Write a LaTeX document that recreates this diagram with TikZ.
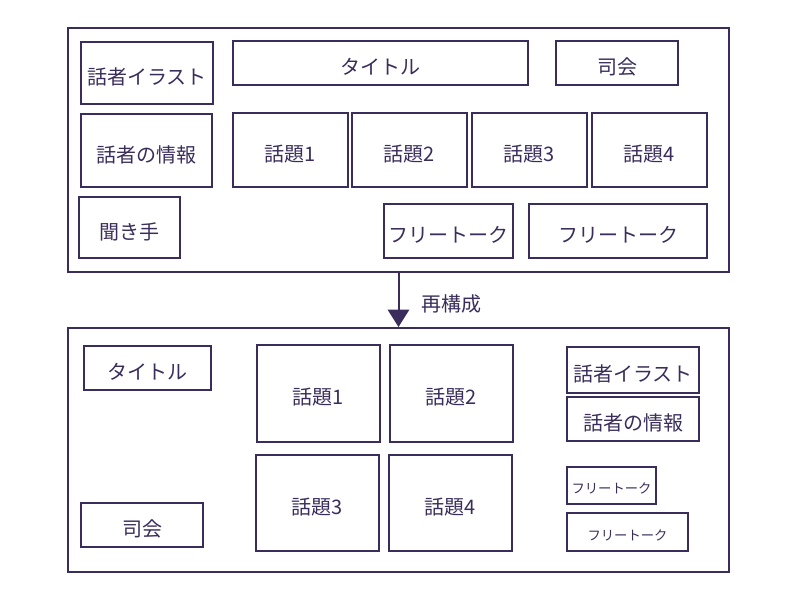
\documentclass[tikz,border=0pt]{standalone}
\usepackage{fontspec}
\setmainfont{Noto Sans CJK JP}
\usetikzlibrary{arrows.meta, fit}

\definecolor{ink}{RGB}{58,45,92}

\tikzset{
  frame/.style={draw=ink, line width=1.5pt, inner sep=0pt},
  box/.style={draw=ink, line width=1.3pt, inner sep=0pt},
  smallbox/.style={draw=ink, line width=0.8pt, inner sep=0pt},
  boxtext/.style={text=ink, font=\fontsize{15}{17}\selectfont, yshift=-3pt},
  smalltext/.style={text=ink, font=\fontsize{10}{12}\selectfont, yshift=-2.5pt},
}

\begin{document}
\begin{tikzpicture}[x=0.75pt, y=-0.75pt]
  \useasboundingbox (0,0) rectangle (800,601);

  % before
  \node (before) [frame, fit={(68,28) (729,272)}] {};
  \node (illust) [box, fit={(81,42) (213,104)}, label={[boxtext]center:話者イラスト}] {};
  \node (title) [box, fit={(233,41) (528,85)}, label={[boxtext]center:タイトル}] {};
  \node (host) [box, fit={(556,41) (678,85)}, label={[boxtext]center:司会}] {};
  \node (info) [box, fit={(81,114) (212,187)}, label={[boxtext]center:話者の情報}] {};
  \node (topic1) [box, fit={(233,113) (348,187)}, label={[boxtext]center:話題1}] {};
  \node (topic2) [box, fit={(352,113) (467,187)}, label={[boxtext]center:話題2}] {};
  \node (topic3) [box, fit={(472,113) (587,187)}, label={[boxtext]center:話題3}] {};
  \node (topic4) [box, fit={(592,113) (707,187)}, label={[boxtext]center:話題4}] {};
  \node (listener) [box, fit={(79,197) (180,258)}, label={[boxtext]center:聞き手}] {};
  \node (free1) [box, fit={(384,204) (513,258)}, label={[boxtext]center:フリートーク}] {};
  \node (free2) [box, fit={(529,204) (707,258)}, label={[boxtext]center:フリートーク}] {};

  % after
  \node (after) [frame, fit={(68,328) (729,572)}] {};
  \node (title2) [box, fit={(84,346) (211,390)}, label={[boxtext]center:タイトル}] {};
  \node (topic1b) [box, fit={(257,345) (380,442)}, label={[boxtext]center:話題1}] {};
  \node (topic2b) [box, fit={(390,345) (513,442)}, label={[boxtext]center:話題2}] {};
  \node (topic3b) [box, fit={(256,455) (379,551)}, label={[boxtext]center:話題3}] {};
  \node (topic4b) [box, fit={(389,455) (512,551)}, label={[boxtext]center:話題4}] {};
  \node (illust2) [box, fit={(567,347) (699,393)}, label={[boxtext]center:話者イラスト}] {};
  \node (info2) [box, fit={(567,397) (699,441)}, label={[boxtext]center:話者の情報}] {};
  \node (free1b) [smallbox, fit={(567,467) (656,504)}, label={[smalltext]center:フリートーク}] {};
  \node (free2b) [smallbox, fit={(567,513) (688,551)}, label={[smalltext]center:フリートーク}] {};
  \node (host2) [box, fit={(81,503) (203,547)}, label={[boxtext]center:司会}] {};

  \draw [ink, line width=1.5pt, -{Triangle[width=16pt, length=13pt]}]
    (before.south) -- node [boxtext, right=13pt] {再構成} (after.north);
\end{tikzpicture}
\end{document}
